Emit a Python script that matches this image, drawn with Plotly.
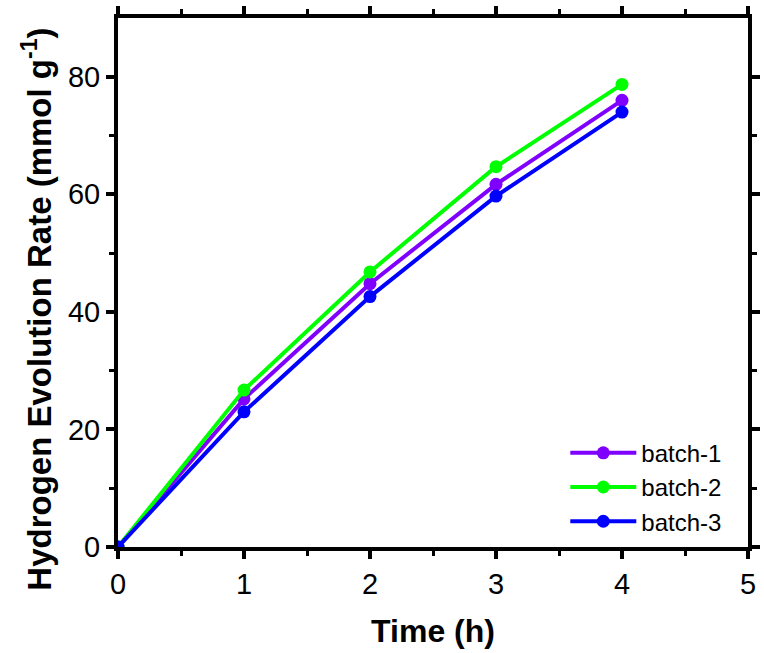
import plotly.graph_objects as go

time_h = [0, 1, 2, 3, 4]
batch_1 = [0, 25.2, 44.8, 61.7, 76.0]
batch_2 = [0, 26.7, 46.8, 64.7, 78.7]
batch_3 = [0, 23.0, 42.6, 59.7, 74.0]
series_names = ["batch-1", "batch-2", "batch-3"]
series_colors = ["#8000FF", "#00FF00", "#0000FF"]
y_title = "<b>Hydrogen Evolution Rate (mmol g<sup>-1</sup>)</b>"
x_title = "<b>Time (h)</b>"

fig = go.Figure()
for name, vals, col in zip(series_names, [batch_1, batch_2, batch_3], series_colors):
    fig.add_trace(go.Scatter(
        x=time_h, y=vals, name=name, mode="lines+markers",
        line=dict(color=col, width=4),
        marker=dict(color=col, size=13, symbol="circle"),
    ))

axis_common = dict(
    showline=True, linewidth=4, linecolor="black", mirror="ticks",
    ticks="outside", ticklen=8, tickwidth=4, tickcolor="black",
    showgrid=False, zeroline=False, automargin=False,
    tickfont=dict(family="Liberation Sans, Arial", size=29, color="black"),
)

fig.update_layout(
    width=764, height=653,
    paper_bgcolor="white", plot_bgcolor="white",
    margin=dict(l=118, r=16, t=18, b=106),
    showlegend=True,
    legend=dict(
        x=0.71, y=0.113, xanchor="left", yanchor="middle",
        bgcolor="rgba(0,0,0,0)", borderwidth=0,
        font=dict(family="Liberation Sans, Arial", size=24, color="black"),
        itemwidth=66, tracegroupgap=0,
    ),
    xaxis=dict(
        range=[0, 5], dtick=1,
        minor=dict(dtick=0.5, ticks="outside", ticklen=5, tickwidth=3, tickcolor="black"),
        title=dict(text=x_title, standoff=22,
                   font=dict(family="Liberation Sans, Arial", size=32, color="black")),
        **axis_common,
    ),
    yaxis=dict(
        range=[0, 90], tickvals=[0, 20, 40, 60, 80],
        minor=dict(tickvals=[10, 30, 50, 70], ticks="outside", ticklen=5, tickwidth=3, tickcolor="black"),
        **axis_common,
    ),
    annotations=[dict(
        text=y_title, textangle=-90, showarrow=False,
        xref="paper", yref="paper", x=-0.129, y=0.45,
        xanchor="center", yanchor="middle",
        font=dict(family="Liberation Sans, Arial", size=33, color="black"),
    )],
)

fig.write_html("out.html", config={"displayModeBar": False},
               post_script="document.body.style.margin='0';")
